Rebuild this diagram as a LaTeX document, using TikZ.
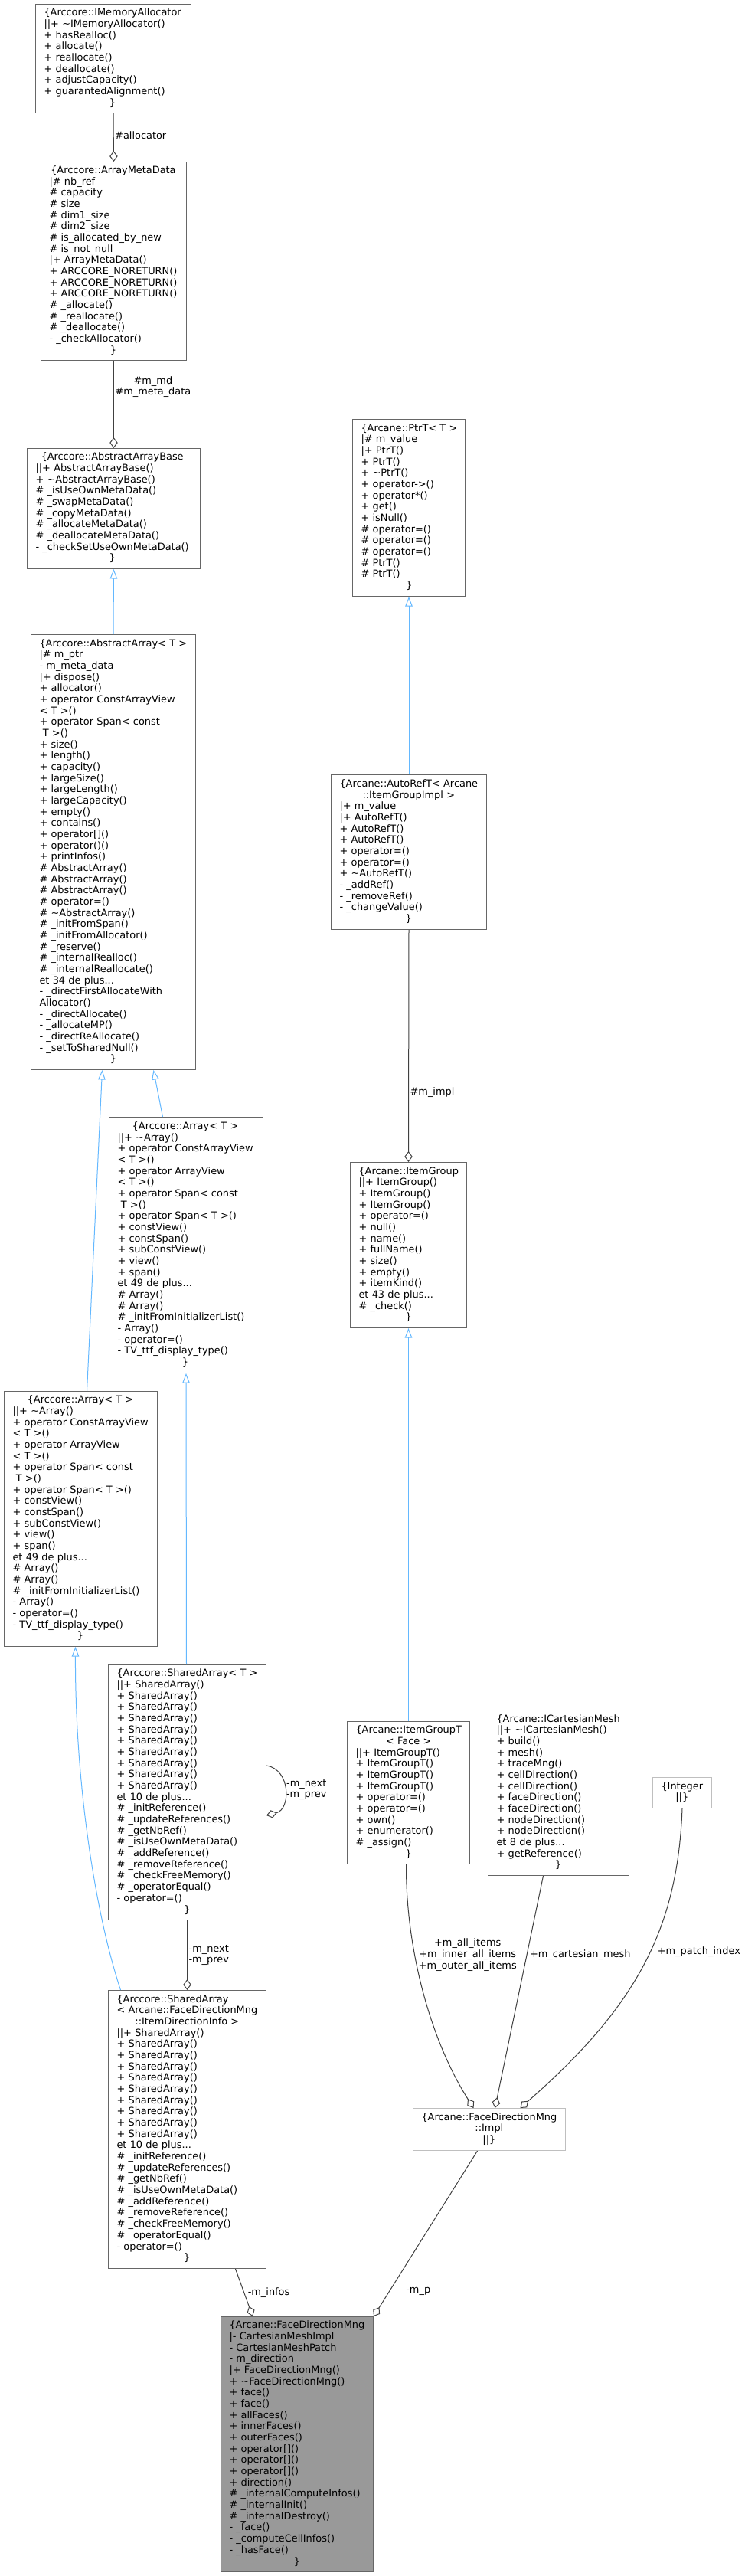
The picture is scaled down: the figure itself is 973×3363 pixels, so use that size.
\documentclass[tikz,border=0pt]{standalone}
\usepackage{fontspec}
\newfontfamily\dejavu{DejaVu Sans}
\usetikzlibrary{arrows.meta}

\definecolor{boxgray}{HTML}{666666}
\definecolor{boxlight}{HTML}{BFBFBF}
\definecolor{fillgray}{HTML}{999999}
\definecolor{inhblue}{HTML}{63B8FF}
\definecolor{edgegray}{HTML}{404040}

\newcommand\classfont{\dejavu\fontsize{12.9pt}{14.67pt}\selectfont}
\newcommand\hd[1]{\multicolumn{1}{@{}c@{}}{#1}}
\newcommand\rows[1]{\begin{tabular}{@{}l@{}}#1\end{tabular}}

% members shared by both Array< T > boxes
\newcommand\arrayrows{%
||+ \textasciitilde Array()\\
+ operator ConstArrayView\\
< T >()\\
+ operator ArrayView\\
< T >()\\
+ operator Span< const\\
\ T >()\\
+ operator Span< T >()\\
+ constView()\\
+ constSpan()\\
+ subConstView()\\
+ view()\\
+ span()\\
et 49 de plus...\\
\# Array()\\
\# Array()\\
\# \_initFromInitializerList()\\
- Array()\\
- operator=()\\
- TV\_ttf\_display\_type()\\
\hd{\}}}

% members shared by both SharedArray boxes
\newcommand\sharedrows{%
||+ SharedArray()\\
+ SharedArray()\\
+ SharedArray()\\
+ SharedArray()\\
+ SharedArray()\\
+ SharedArray()\\
+ SharedArray()\\
+ SharedArray()\\
+ SharedArray()\\
+ SharedArray()\\
et 10 de plus...\\
\# \_initReference()\\
\# \_updateReferences()\\
\# \_getNbRef()\\
\# \_isUseOwnMetaData()\\
\# \_addReference()\\
\# \_removeReference()\\
\# \_checkFreeMemory()\\
\# \_operatorEqual()\\
- operator=()\\
\hd{\}}}

\begin{document}
\begin{tikzpicture}[
    x=1pt, y=-1pt,
    cls/.style={rectangle, draw=boxgray, line width=1pt, anchor=north west, inner xsep=11pt, inner ysep=0pt, align=left, font=\classfont},
    clslight/.style={cls, draw=boxlight},
    inherit/.style={draw=inhblue, line width=1pt, -{Triangle[open, length=12.5pt, width=9.5pt]}},
    member/.style={draw=edgegray, line width=1pt, -{Diamond[open, length=14pt, width=10.5pt]}},
    lbl/.style={font=\classfont, inner sep=1.5pt}
]
\fill[white] (0,0) rectangle (973,3363);
\useasboundingbox (0,0) rectangle (973,3363);

% Arccore array classes
\node[cls, text width=181pt, minimum height=142pt] (alloc) at (46,5) {\rows{\hd{\{Arccore::IMemoryAllocator}\\
||+ \textasciitilde IMemoryAllocator()\\
+ hasRealloc()\\
+ allocate()\\
+ reallocate()\\
+ deallocate()\\
+ adjustCapacity()\\
+ guarantedAlignment()\\
\hd{\}}}};

\node[cls, text width=168pt, minimum height=259pt] (metadata) at (53,211) {\rows{\hd{\{Arccore::ArrayMetaData}\\
|\# nb\_ref\\
\# capacity\\
\# size\\
\# dim1\_size\\
\# dim2\_size\\
\# is\_allocated\_by\_new\\
\# is\_not\_null\\
|+ ArrayMetaData()\\
+ ARCCORE\_NORETURN()\\
+ ARCCORE\_NORETURN()\\
+ ARCCORE\_NORETURN()\\
\# \_allocate()\\
\# \_reallocate()\\
\# \_deallocate()\\
- \_checkAllocator()\\
\hd{\}}}};

\node[cls, text width=204pt, minimum height=157pt] (absbase) at (35,585) {\rows{\hd{\{Arccore::AbstractArrayBase}\\
||+ AbstractArrayBase()\\
+ \textasciitilde AbstractArrayBase()\\
\# \_isUseOwnMetaData()\\
\# \_swapMetaData()\\
\# \_copyMetaData()\\
\# \_allocateMetaData()\\
\# \_deallocateMetaData()\\
- \_checkSetUseOwnMetaData()\\
\hd{\}}}};

\node[cls, text width=193pt, minimum height=568pt] (absarray) at (40,828) {\rows{\hd{\{Arccore::AbstractArray< T >}\\
|\# m\_ptr\\
- m\_meta\_data\\
|+ dispose()\\
+ allocator()\\
+ operator ConstArrayView\\
< T >()\\
+ operator Span< const\\
\ T >()\\
+ size()\\
+ length()\\
+ capacity()\\
+ largeSize()\\
+ largeLength()\\
+ largeCapacity()\\
+ empty()\\
+ contains()\\
+ operator[]()\\
+ operator()()\\
+ printInfos()\\
\# AbstractArray()\\
\# AbstractArray()\\
\# AbstractArray()\\
\# operator=()\\
\# \textasciitilde AbstractArray()\\
\# \_initFromSpan()\\
\# \_initFromAllocator()\\
\# \_reserve()\\
\# \_internalRealloc()\\
\# \_internalReallocate()\\
et 34 de plus...\\
- \_directFirstAllocateWith\\
Allocator()\\
- \_directAllocate()\\
- \_allocateMP()\\
- \_directReAllocate()\\
- \_setToSharedNull()\\
\hd{\}}}};

\node[cls, text width=179pt, minimum height=334pt] (arrM) at (142,1458) {\rows{\hd{\{Arccore::Array< T >}\\ \arrayrows}};
\node[cls, text width=178pt, minimum height=333pt] (arrL) at (5,1816) {\rows{\hd{\{Arccore::Array< T >}\\ \arrayrows}};

\node[cls, text width=184pt, minimum height=333pt] (sarr) at (141,2173) {\rows{\{Arccore::SharedArray< T >\\ \sharedrows}};
\node[cls, text width=184pt, minimum height=363pt] (sfdi) at (141,2598) {\rows{\{Arccore::SharedArray\\
< Arcane::FaceDirectionMng\\
\hd{::ItemDirectionInfo >}\\ \sharedrows}};

% Arcane classes
\node[cls, fill=fillgray, text width=177pt, minimum height=333pt] (fdm) at (288,3024) {\rows{\hd{\{Arcane::FaceDirectionMng}\\
|- CartesianMeshImpl\\
- CartesianMeshPatch\\
- m\_direction\\
|+ FaceDirectionMng()\\
+ \textasciitilde FaceDirectionMng()\\
+ face()\\
+ face()\\
+ allFaces()\\
+ innerFaces()\\
+ outerFaces()\\
+ operator[]()\\
+ operator[]()\\
+ operator[]()\\
+ direction()\\
\# \_internalComputeInfos()\\
\# \_internalInit()\\
\# \_internalDestroy()\\
- \_face()\\
- \_computeCellInfos()\\
- \_hasFace()\\
\hd{\}}}};

\node[cls, text width=125pt, minimum height=231pt] (ptrt) at (460,547) {\rows{\hd{\{Arcane::PtrT< T >}\\
|\# m\_value\\
|+ PtrT()\\
+ PtrT()\\
+ \textasciitilde PtrT()\\
+ operator->()\\
+ operator*()\\
+ get()\\
+ isNull()\\
\# operator=()\\
\# operator=()\\
\# operator=()\\
\# PtrT()\\
\# PtrT()\\
\hd{\}}}};

\node[cls, text width=181pt, minimum height=202pt] (autoref) at (432,1011) {\rows{\{Arcane::AutoRefT< Arcane\\
\hd{::ItemGroupImpl >}\\
|+ m\_value\\
|+ AutoRefT()\\
+ AutoRefT()\\
+ AutoRefT()\\
+ operator=()\\
+ operator=()\\
+ \textasciitilde AutoRefT()\\
- \_addRef()\\
- \_removeRef()\\
- \_changeValue()\\
\hd{\}}}};

\node[cls, text width=130pt, minimum height=216pt] (igroup) at (457,1517) {\rows{\hd{\{Arcane::ItemGroup}\\
||+ ItemGroup()\\
+ ItemGroup()\\
+ ItemGroup()\\
+ operator=()\\
+ null()\\
+ name()\\
+ fullName()\\
+ size()\\
+ empty()\\
+ itemKind()\\
et 43 de plus...\\
\# \_check()\\
\hd{\}}}};

\node[cls, text width=138pt, minimum height=186pt] (igroupt) at (453,2247) {\rows{\hd{\{Arcane::ItemGroupT}\\
\hd{< Face >}\\
||+ ItemGroupT()\\
+ ItemGroupT()\\
+ ItemGroupT()\\
+ ItemGroupT()\\
+ operator=()\\
+ operator=()\\
+ own()\\
+ enumerator()\\
\# \_assign()\\
\hd{\}}}};

\node[cls, text width=162pt, minimum height=216pt] (icm) at (637,2232) {\rows{\hd{\{Arcane::ICartesianMesh}\\
||+ \textasciitilde ICartesianMesh()\\
+ build()\\
+ mesh()\\
+ traceMng()\\
+ cellDirection()\\
+ cellDirection()\\
+ faceDirection()\\
+ faceDirection()\\
+ nodeDirection()\\
+ nodeDirection()\\
et 8 de plus...\\
+ getReference()\\
\hd{\}}}};

\node[clslight, text width=55pt, minimum height=40pt] (integer) at (852,2320) {\rows{\hd{\{Integer}\\ \hd{||\}}}};
\node[clslight, text width=177pt, minimum height=55pt] (impl) at (539,2752) {\rows{\hd{\{Arcane::FaceDirectionMng}\\ \hd{::Impl}\\ \hd{||\}}}};

% Inheritance
\draw[inherit] (absarray.north) -- (absbase.south);
\draw[inherit] ([xshift=8pt]arrL.north) -- ([xshift=-14.5pt]absarray.south);
\draw[inherit] ([xshift=-30.5pt]arrM.north) -- ([xshift=52.5pt]absarray.south);
\draw[inherit] ([xshift=-1pt]sarr.north) -- (arrM.south);
\draw[inherit] ([xshift=-87pt]sfdi.north) .. controls (125,2500) and (98,2330) .. ([xshift=-7pt]arrL.south);
\draw[inherit] (autoref.north) -- (ptrt.south);
\draw[inherit] (igroupt.north) -- (igroup.south);

% Members
\draw[member] (alloc.south) -- node[lbl, right, pos=0.45] {\#allocator} (metadata.north);
\draw[member] (metadata.south) -- node[lbl, right, align=center, pos=0.3] {\#m\_md\\\#m\_meta\_data} (absbase.north);
\draw[member] (autoref.south) -- node[lbl, right, pos=0.7] {\#m\_impl} (igroup.north);
\draw[member] ([yshift=-132pt]sarr.north east) .. controls (380,2310) and (380,2362) .. node[lbl, right, align=center, pos=0.5] {-m\_next\\-m\_prev} ([yshift=-197pt]sarr.north east);
\draw[member] (sarr.south) -- node[lbl, right, align=center, pos=0.5] {-m\_next\\-m\_prev} (sfdi.north);
\draw[member] ([xshift=63pt]sfdi.south) -- node[lbl, right, pos=0.5, xshift=3pt] {-m\_infos} ([xshift=-58pt]fdm.north);
\draw[member] ([xshift=-15.5pt]impl.south) -- node[lbl, right, pos=0.85, xshift=20pt] {-m\_p} (fdm.north east);
\draw[member] ([xshift=-3pt]igroupt.south) .. controls (530,2540) and (560,2660) .. node[lbl, anchor=west, align=center, pos=0.36, xshift=3pt] {+m\_all\_items\\+m\_inner\_all\_items\\+m\_outer\_all\_items} ([xshift=-20.5pt]impl.north);
\draw[member] ([xshift=-20pt]icm.south) -- node[lbl, right, pos=0.34, xshift=2pt] {+m\_cartesian\_mesh} ([xshift=7.5pt]impl.north);
\draw[member] (integer.south) .. controls (885,2520) and (830,2620) .. node[lbl, right, pos=0.45, xshift=8pt] {+m\_patch\_index} ([xshift=40.5pt]impl.north);

\end{tikzpicture}
\end{document}
